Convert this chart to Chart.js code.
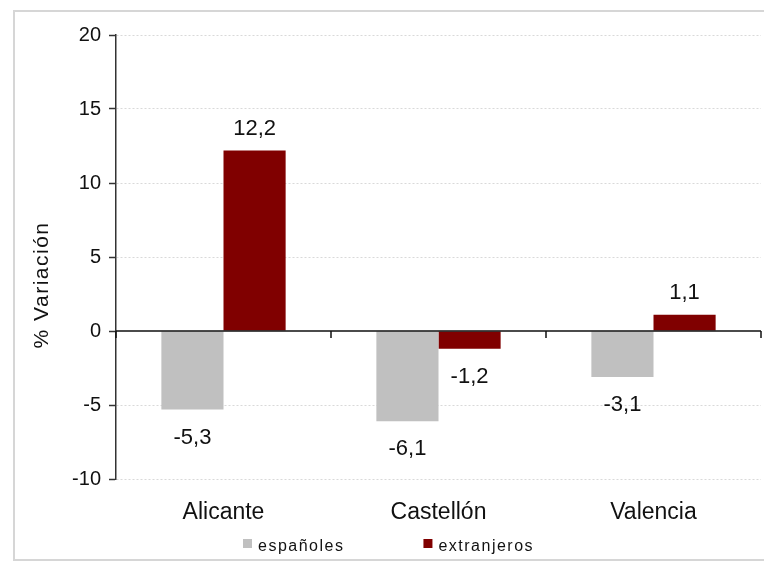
<!DOCTYPE html>
<html>
<head>
<meta charset="utf-8">
<script src="https://cdn.jsdelivr.net/npm/chart.js@4"></script>
<style>
  html, body { margin: 0; padding: 0; background: #fff; }
  #wrap { position: relative; width: 764px; height: 562px; overflow: hidden; }
  #frame {
    position: absolute; left: 13px; top: 10px; width: 800px; height: 547px;
    border-left: 2px solid #d6d6d6; border-top: 2px solid #d6d6d6; border-bottom: 2px solid #d6d6d6;
  }
  canvas { position: absolute; left: 0; top: 0; }
</style>
</head>
<body>
<div id="wrap">
  <div id="frame"></div>
  <canvas id="chart" width="764" height="562"></canvas>
</div>
<script>
const provincias = ['Alicante', 'Castellón', 'Valencia'];
const espanoles = [-5.3, -6.1, -3.1];
const extranjeros = [12.2, -1.2, 1.1];
const serieNombres = ['españoles', 'extranjeros'];
const serieColores = ['#c0c0c0', '#800000'];
const tituloY = '% Variación';

const FONT = '"Liberation Sans", Arial, sans-serif';

// etiquetas de valor con coma decimal
const valueLabels = {
  id: 'valueLabels',
  afterDatasetsDraw(chart) {
    const ctx = chart.ctx;
    ctx.save();
    ctx.font = '22px ' + FONT;
    ctx.fillStyle = '#111';
    ctx.textAlign = 'center';
    ctx.textBaseline = 'middle';
    chart.data.datasets.forEach((ds, i) => {
      chart.getDatasetMeta(i).data.forEach((bar, j) => {
        const v = ds.data[j];
        const txt = v.toFixed(1).replace('.', ',');
        const y = v >= 0 ? bar.y - 22 : bar.y + 28;
        ctx.fillText(txt, bar.x, y);
      });
    });
    ctx.restore();
  }
};

// eje en el cero con marcas entre categorias
const zeroAxis = {
  id: 'zeroAxis',
  afterDatasetsDraw(chart) {
    const { ctx, chartArea, scales } = chart;
    const y0 = scales.y.getPixelForValue(0);
    ctx.save();
    ctx.strokeStyle = '#111';
    ctx.lineWidth = 1.5;
    ctx.beginPath();
    ctx.moveTo(chartArea.left, y0);
    ctx.lineTo(chartArea.right, y0);
    for (let i = 0; i <= provincias.length; i++) {
      const x = scales.x.getPixelForValue(i - 0.5);
      ctx.moveTo(x, y0);
      ctx.lineTo(x, y0 + 7);
    }
    ctx.stroke();
    ctx.restore();
  }
};

// titulo del eje y leyenda abajo
const extras = {
  id: 'extras',
  afterDraw(chart) {
    const ctx = chart.ctx;
    ctx.save();
    ctx.letterSpacing = '1.5px';
    ctx.fillStyle = '#111';
    ctx.font = '21px ' + FONT;
    ctx.textAlign = 'center';
    ctx.textBaseline = 'middle';
    ctx.translate(42, 285);
    ctx.rotate(-Math.PI / 2);
    ctx.fillText(tituloY, 0, 0);
    ctx.restore();

    ctx.save();
    ctx.letterSpacing = '1.5px';
    ctx.font = '16px ' + FONT;
    ctx.textBaseline = 'middle';
    let x = 243;
    const y = 547;
    chart.data.datasets.forEach(ds => {
      ctx.fillStyle = ds.backgroundColor;
      ctx.fillRect(x, y - 8, 9, 9);
      ctx.fillStyle = '#111';
      ctx.fillText(ds.label, x + 15, y);
      x += 15 + ctx.measureText(ds.label).width + 79;
    });
    ctx.restore();
  }
};

new Chart(document.getElementById('chart'), {
  type: 'bar',
  data: {
    labels: provincias,
    datasets: [
      { label: serieNombres[0], data: espanoles, backgroundColor: serieColores[0] },
      { label: serieNombres[1], data: extranjeros, backgroundColor: serieColores[1] }
    ]
  },
  options: {
    responsive: false,
    animation: false,
    devicePixelRatio: 1,
    layout: { padding: { top: 35, right: 3, bottom: 0, left: 0 } },
    datasets: { bar: { categoryPercentage: 0.578, barPercentage: 1.0 } },
    plugins: { legend: { display: false }, tooltip: { enabled: false } },
    scales: {
      x: {
        grid: { display: false, drawTicks: false },
        border: { display: false },
        ticks: { color: '#111', font: { family: FONT, size: 23 }, padding: 20 },
        afterFit: s => { s.height = 83; }
      },
      y: {
        min: -10,
        max: 20,
        ticks: { stepSize: 5, color: '#111', font: { family: FONT, size: 20 }, padding: 8 },
        grid: {
          color: c => c.tick && c.tick.value === 0 ? 'rgba(0,0,0,0)' : '#d9d9d9',
          lineWidth: 1,
          tickLength: 7,
          tickColor: '#333',
          tickWidth: 1.5
        },
        border: { display: true, color: '#333', width: 1.5, dash: [2, 2] },
        afterFit: s => { s.width = 116; }
      }
    }
  },
  plugins: [valueLabels, zeroAxis, extras]
});
</script>
</body>
</html>
